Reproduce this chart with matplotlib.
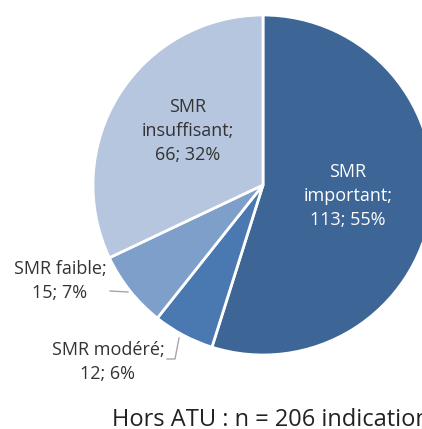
import matplotlib
matplotlib.use("Agg")
import matplotlib.pyplot as plt

categories = ["SMR important", "SMR modéré", "SMR faible", "SMR insuffisant"]
values = [113, 12, 15, 66]
percents = [55, 6, 7, 32]
colors = ["#3D6596", "#4A78B0", "#7F9FCB", "#B7C6DF"]
title = "Hors ATU : n = 206 indications"

plt.rcParams['font.family'] = ['Open Sans', 'DejaVu Sans']

W, H = 422, 429
fig = plt.figure(figsize=(W/100, H/100), dpi=100)
ax = fig.add_axes([0, 0, 1, 1])
cx, cy, R = 263, 185, 170

def d(px, py):
    return ((px - cx) / R, (cy - py) / R)

ax.pie(values, colors=colors, startangle=90, counterclock=False, radius=1,
       wedgeprops=dict(edgecolor="white", linewidth=2))
ax.set_xlim(-cx / R, (W - cx) / R)
ax.set_ylim((cy - H) / R, cy / R)
ax.set_aspect("equal")
ax.axis("off")

fs = 13
ls = 1.45
# labels
x, y = d(348, 196)
ax.text(x, y, f"SMR\nimportant;\n{values[0]}; {percents[0]}%", ha="center", va="center",
        color="white", fontsize=fs, linespacing=ls)
x, y = d(188, 131)
ax.text(x, y, f"SMR\ninsuffisant;\n{values[3]}; {percents[3]}%", ha="center", va="center",
        color="#333333", fontsize=fs, linespacing=ls)
x, y = d(60, 281)
ax.text(x, y, f"SMR faible;\n{values[2]}; {percents[2]}%", ha="center", va="center",
        color="#333333", fontsize=fs, linespacing=ls)
x, y = d(108, 362)
ax.text(x, y, f"SMR modéré;\n{values[1]}; {percents[1]}%", ha="center", va="center",
        color="#333333", fontsize=fs, linespacing=ls)

# leader lines
p = [d(110, 291), d(128, 292)]
ax.plot([q[0] for q in p], [q[1] for q in p], color="#A6A6A6", lw=1)
p = [d(167, 359), d(175, 359), d(179, 338)]
ax.plot([q[0] for q in p], [q[1] for q in p], color="#A6A6A6", lw=1)

x, y = d(112, 426)
ax.text(x, y, title, ha="left", va="baseline", color="#222222", fontsize=17)

fig.savefig("out.png", dpi=100)
